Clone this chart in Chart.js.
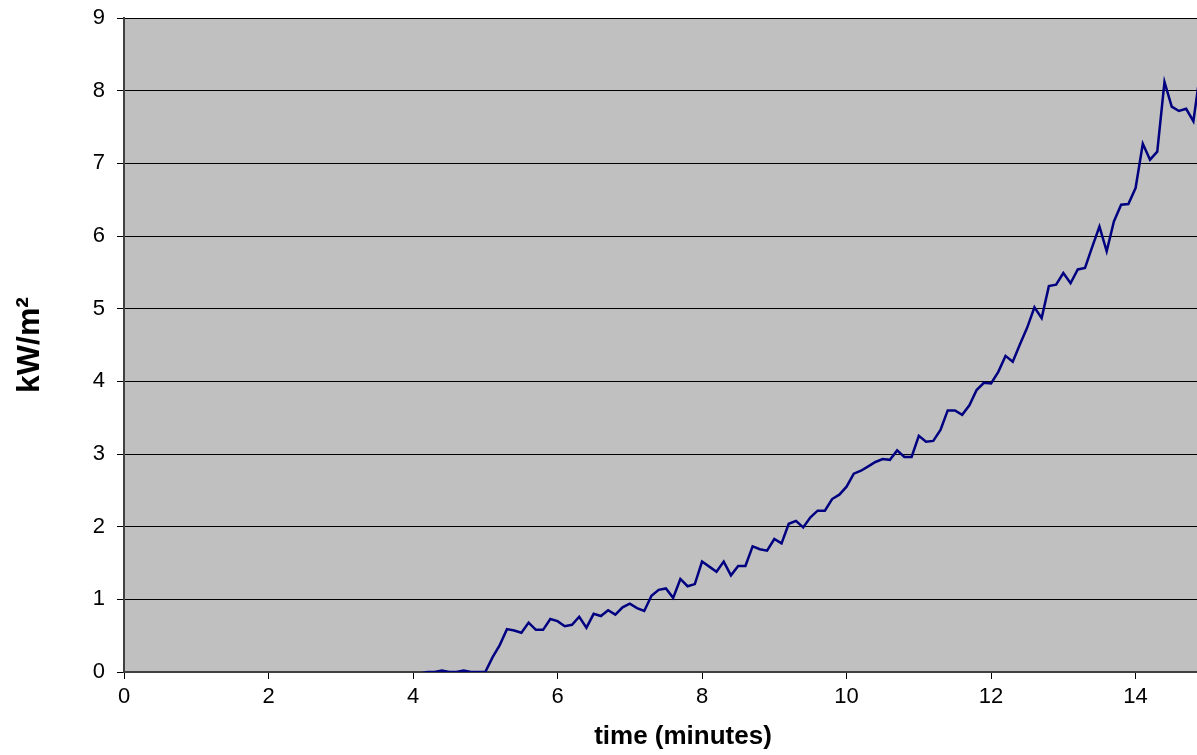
<!DOCTYPE html>
<html>
<head>
<meta charset="utf-8">
<script src="https://cdn.jsdelivr.net/npm/chart.js@4.4.1/dist/chart.umd.min.js"></script>
<style>
  html, body { margin: 0; padding: 0; background: #fff; }
  #wrap { width: 1197px; height: 755px; position: relative; }
</style>
</head>
<body>
<div id="wrap"><canvas id="chart"></canvas></div>
<script>
// sample times (minutes)
const times = [
  0.0, 0.1, 0.2, 0.3, 0.4, 0.5, 0.6, 0.7, 0.8, 0.9,
  1.0, 1.1, 1.2, 1.3, 1.4, 1.5, 1.6, 1.7, 1.8, 1.9,
  2.0, 2.1, 2.2, 2.3, 2.4, 2.5, 2.6, 2.7, 2.8, 2.9,
  3.0, 3.1, 3.2, 3.3, 3.4, 3.5, 3.6, 3.7, 3.8, 3.9,
  4.0, 4.1, 4.2, 4.3, 4.4, 4.5, 4.6, 4.7, 4.8, 4.9,
  5.0, 5.1, 5.2, 5.3, 5.4, 5.5, 5.6, 5.7, 5.8, 5.9,
  6.0, 6.1, 6.2, 6.3, 6.4, 6.5, 6.6, 6.7, 6.8, 6.9,
  7.0, 7.1, 7.2, 7.3, 7.4, 7.5, 7.6, 7.7, 7.8, 7.9,
  8.0, 8.1, 8.2, 8.3, 8.4, 8.5, 8.6, 8.7, 8.8, 8.9,
  9.0, 9.1, 9.2, 9.3, 9.4, 9.5, 9.6, 9.7, 9.8, 9.9,
  10.0, 10.1, 10.2, 10.3, 10.4, 10.5, 10.6, 10.7, 10.8, 10.9,
  11.0, 11.1, 11.2, 11.3, 11.4, 11.5, 11.6, 11.7, 11.8, 11.9,
  12.0, 12.1, 12.2, 12.3, 12.4, 12.5, 12.6, 12.7, 12.8, 12.9,
  13.0, 13.1, 13.2, 13.3, 13.4, 13.5, 13.6, 13.7, 13.8, 13.9,
  14.0, 14.1, 14.2, 14.3, 14.4, 14.5, 14.6, 14.7, 14.8, 14.9
];

// heat flux (kW/m2)
const flux = [
  -0.1, -0.1, -0.1, -0.1, -0.1, -0.1, -0.1, -0.1, -0.1, -0.1,
  -0.1, -0.1, -0.1, -0.1, -0.1, -0.1, -0.03, -0.1, -0.1, -0.03,
  -0.1, -0.03, -0.1, -0.1, -0.1, -0.1, -0.1, -0.1, -0.1, -0.1,
  -0.1, -0.1, -0.1, -0.1, -0.1, -0.1, -0.1, -0.1, -0.1, -0.1,
  -0.1, -0.02, 0.0, 0.0, 0.02, 0.0, 0.0, 0.02, 0.0, 0.0,
  0.0, 0.20, 0.37, 0.59, 0.57, 0.54, 0.68, 0.58, 0.58, 0.73,
  0.70, 0.63, 0.65, 0.76, 0.61, 0.80, 0.77, 0.85, 0.79, 0.89,
  0.94, 0.88, 0.84, 1.05, 1.13, 1.15, 1.02, 1.28, 1.18, 1.21,
  1.52, 1.45, 1.38, 1.52, 1.33, 1.46, 1.46, 1.73, 1.69, 1.67,
  1.83, 1.77, 2.04, 2.08, 1.99, 2.13, 2.22, 2.22, 2.38, 2.44,
  2.55, 2.73, 2.77, 2.83, 2.89, 2.93, 2.92, 3.05, 2.96, 2.96,
  3.25, 3.17, 3.18, 3.33, 3.60, 3.60, 3.54, 3.67, 3.88, 3.98,
  3.97, 4.13, 4.35, 4.27, 4.51, 4.74, 5.02, 4.87, 5.31, 5.33,
  5.49, 5.35, 5.54, 5.56, 5.85, 6.13, 5.79, 6.20, 6.43, 6.44,
  6.66, 7.27, 7.05, 7.16, 8.12, 7.78, 7.72, 7.75, 7.58, 8.30
];

const xTitle = 'time (minutes)';
const yTitle = 'kW/m\u00B2';

const points = times.map((t, i) => ({ x: t, y: flux[i] }));

// grey plot area like the old spreadsheet chart
const plotBackground = {
  id: 'plotBackground',
  beforeDraw(chart) {
    const { ctx, chartArea } = chart;
    ctx.save();
    ctx.fillStyle = '#c0c0c0';
    ctx.fillRect(chartArea.left, chartArea.top, chartArea.right - chartArea.left, chartArea.bottom - chartArea.top);
    ctx.restore();
  }
};

// x axis title sits a bit right of the plot centre in the original
const xAxisTitle = {
  id: 'xAxisTitle',
  afterDraw(chart) {
    const { ctx } = chart;
    ctx.save();
    ctx.font = 'bold 26px "Liberation Sans", Arial, sans-serif';
    ctx.fillStyle = '#000';
    ctx.textAlign = 'center';
    ctx.textBaseline = 'middle';
    ctx.fillText(xTitle, 683, 737);
    ctx.restore();
  }
};

const tickFont = { family: '"Liberation Sans", Arial, sans-serif', size: 22 };

new Chart(document.getElementById('chart'), {
  type: 'line',
  data: {
    datasets: [{
      data: points,
      borderColor: '#000080',
      borderWidth: 2.5,
      pointRadius: 0,
      tension: 0,
      fill: false
    }]
  },
  options: {
    responsive: true,
    maintainAspectRatio: false,
    animation: false,
    layout: { padding: { top: 18, right: 0, bottom: 0, left: 0 } },
    plugins: {
      legend: { display: false },
      tooltip: { enabled: false }
    },
    scales: {
      x: {
        type: 'linear',
        min: 0,
        max: 14.85,
        afterFit(scale) {
          scale.height = 83;
          scale.paddingLeft = 0;
          scale.paddingRight = 0;
        },
        grid: { drawOnChartArea: false, drawTicks: true, tickLength: 7, tickColor: '#000' },
        border: { color: '#404040', width: 2 },
        ticks: { stepSize: 2, includeBounds: false, color: '#000', font: tickFont, padding: 5, maxRotation: 0 }
      },
      y: {
        min: 0,
        max: 9,
        afterFit(scale) {
          scale.width = 124;
          scale.paddingTop = 0;
          scale.paddingBottom = 0;
        },
        grid: { color: '#000', lineWidth: 1, tickLength: 7, tickColor: '#000' },
        border: { color: '#404040', width: 2 },
        ticks: { stepSize: 1, color: '#000', font: tickFont, padding: 12 },
        title: {
          display: true,
          text: yTitle,
          color: '#000',
          font: { family: '"Liberation Sans", Arial, sans-serif', size: 32, weight: 'bold' },
          padding: { top: 11, bottom: 0 }
        }
      }
    }
  },
  plugins: [plotBackground, xAxisTitle]
});
</script>
</body>
</html>
